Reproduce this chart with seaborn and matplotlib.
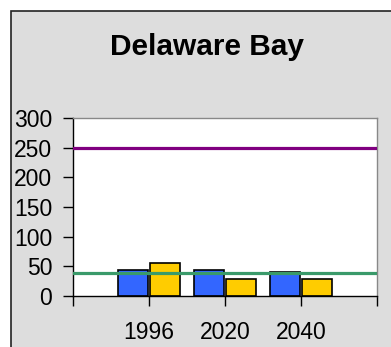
import matplotlib
matplotlib.use('Agg')
import matplotlib.pyplot as plt
import seaborn as sns
import pandas as pd
from matplotlib.patches import Rectangle

# data
years = ['1996', '2020', '2040']
blue_vals = [44, 44, 41]
yellow_vals = [56, 28, 28]
series_names = ['Series A', 'Series B']
purple_level = 250
green_level = 38

df = pd.DataFrame({
    'year': years * 2,
    'value': blue_vals + yellow_vals,
    'series': [series_names[0]] * 3 + [series_names[1]] * 3,
})

sns.set_style('white')
plt.rcParams['font.family'] = ['Liberation Sans', 'DejaVu Sans']
plt.rcParams['text.color'] = 'black'
plt.rcParams['xtick.color'] = 'black'
plt.rcParams['ytick.color'] = 'black'

fig = plt.figure(figsize=(3.91, 3.47), dpi=100, facecolor='white')
# gray chart frame
fig.patches.append(Rectangle((11 / 391, -0.02), 1.0, (347 - 11) / 347 + 0.02,
                             transform=fig.transFigure, facecolor='#dddddd',
                             edgecolor='#222222', linewidth=1.2, zorder=-10))

ax = fig.add_axes([73 / 391, 1 - 296 / 347, (377 - 73) / 391, (296 - 118) / 347])
ax.set_facecolor('white')

sns.barplot(data=df, x='year', y='value', hue='series', order=years,
            palette=['#3366ff', '#ffcc00'], width=0.86, gap=0.08,
            edgecolor='black', linewidth=1.2, saturation=1, legend=False, ax=ax)

ax.axhline(purple_level, color='#800080', linewidth=2.3, zorder=3)
ax.axhline(green_level, color='#3a9a6a', linewidth=2.3, zorder=3)

ax.set_xlim(-1, 3)
ax.set_ylim(0, 300)
ax.set_xticks([-1, 0, 1, 2, 3])
ax.set_xticklabels([''] + years + [''])
ax.set_yticks(range(0, 301, 50))
ax.tick_params(axis='both', direction='out', length=7, width=1, color='black',
               labelcolor='black', labelsize=16.5, left=True, bottom=True)
ax.tick_params(axis='y', pad=8)
ax.tick_params(axis='x', pad=11)
ax.set_xlabel('')
ax.set_ylabel('')

for side in ['left', 'bottom']:
    ax.spines[side].set_color('black')
    ax.spines[side].set_linewidth(1)
for side in ['top', 'right']:
    ax.spines[side].set_visible(True)
    ax.spines[side].set_color('#888888')
    ax.spines[side].set_linewidth(1)

fig.text(207 / 391, 1 - 55 / 347, 'Delaware Bay', ha='center', va='baseline',
         fontsize=21.5, fontweight='bold', color='black')

fig.savefig('out.png', dpi=100, facecolor=fig.get_facecolor())
